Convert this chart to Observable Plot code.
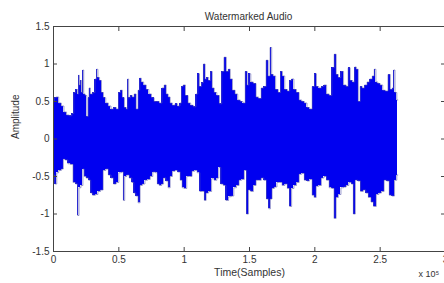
<!DOCTYPE html>
<html>
<head>
<meta charset="utf-8">
<script src="https://cdn.jsdelivr.net/npm/d3@7"></script>
<script src="https://cdn.jsdelivr.net/npm/@observablehq/plot@0.6"></script>
<style>
  html, body { margin: 0; padding: 0; background: #fff; }
  svg { display: block; }
</style>
</head>
<body>
<div id="chart"></div>
<script>
// Units: x in 1e5 samples, y amplitude
const titleText = "Watermarked Audio";
const xLabel = "Time(Samples)";
const yLabel = "Amplitude";
const xTicks = [0, 0.5, 1, 1.5, 2, 2.5, 3];
const yTicks = [-1.5, -1, -0.5, 0, 0.5, 1, 1.5];

const upperX = [0.00,0.01,0.03,0.05,0.07,0.09,0.11,0.13,0.15,0.16,0.18,0.19,0.195,0.20,0.21,0.22,0.228,0.235,0.25,0.26,0.27,0.275,0.29,0.31,0.325,0.335,0.345,0.36,0.375,0.39,0.41,0.43,0.45,0.47,0.49,0.505,0.52,0.535,0.55,0.565,0.57,0.58,0.595,0.61,0.625,0.64,0.655,0.665,0.68,0.70,0.72,0.74,0.76,0.78,0.80,0.82,0.84,0.855,0.87,0.885,0.90,0.92,0.94,0.96,0.975,0.985,1.00,1.02,1.04,1.06,1.08,1.10,1.11,1.125,1.14,1.155,1.165,1.18,1.195,1.21,1.22,1.24,1.26,1.28,1.295,1.315,1.33,1.345,1.36,1.38,1.40,1.42,1.44,1.46,1.475,1.49,1.50,1.52,1.54,1.56,1.58,1.60,1.62,1.635,1.65,1.665,1.675,1.69,1.71,1.73,1.745,1.76,1.78,1.80,1.815,1.83,1.85,1.87,1.89,1.91,1.93,1.95,1.97,1.99,2.005,2.02,2.04,2.06,2.08,2.10,2.12,2.14,2.157,2.17,2.19,2.21,2.23,2.25,2.26,2.28,2.30,2.31,2.325,2.34,2.355,2.37,2.39,2.41,2.43,2.45,2.46,2.475,2.49,2.51,2.53,2.55,2.57,2.585,2.60,2.607,2.62,2.635];
const upperY = [0.50,0.55,0.56,0.48,0.44,0.36,0.32,0.31,0.34,0.62,0.66,0.60,0.85,0.72,0.78,0.62,0.92,0.60,0.58,0.30,0.55,0.68,0.60,0.62,0.80,0.93,0.82,0.78,0.62,0.55,0.48,0.44,0.40,0.42,0.40,0.62,0.65,0.55,0.42,0.40,0.80,0.55,0.58,0.56,0.60,0.40,0.65,0.81,0.76,0.72,0.66,0.60,0.55,0.50,0.50,0.48,0.68,0.72,0.60,0.56,0.48,0.45,0.47,0.44,0.48,0.70,0.72,0.58,0.48,0.45,0.43,0.60,0.87,0.70,0.75,1.00,0.80,0.82,0.78,0.90,0.68,0.62,0.58,0.47,0.90,1.09,0.90,0.93,0.80,0.65,0.60,0.52,0.50,0.48,0.90,0.72,0.87,0.76,0.74,0.56,0.54,0.68,0.70,1.05,0.84,1.22,0.86,0.84,0.66,0.62,0.90,0.84,0.66,0.64,0.78,0.80,0.66,0.62,0.52,0.50,0.48,0.42,0.40,0.70,0.87,0.70,0.68,0.70,0.72,0.60,0.58,0.95,1.13,0.86,0.82,0.90,0.72,0.70,0.95,0.78,0.76,0.96,0.93,0.50,0.70,0.68,0.72,0.76,0.80,0.84,0.93,0.76,0.74,0.72,0.65,0.64,0.86,0.66,0.68,0.92,0.62,0.52];

const lowerX = [0.00,0.02,0.03,0.05,0.07,0.08,0.10,0.12,0.14,0.16,0.18,0.19,0.20,0.22,0.23,0.24,0.26,0.28,0.29,0.31,0.33,0.35,0.37,0.39,0.41,0.43,0.45,0.47,0.49,0.51,0.53,0.54,0.55,0.57,0.59,0.61,0.62,0.64,0.655,0.67,0.69,0.71,0.73,0.75,0.77,0.79,0.80,0.82,0.835,0.85,0.87,0.885,0.90,0.92,0.94,0.96,0.98,0.99,1.01,1.03,1.05,1.07,1.09,1.11,1.13,1.15,1.16,1.175,1.20,1.22,1.24,1.26,1.27,1.29,1.31,1.33,1.35,1.37,1.39,1.41,1.43,1.45,1.47,1.485,1.50,1.52,1.54,1.56,1.58,1.60,1.62,1.64,1.655,1.665,1.68,1.70,1.72,1.74,1.76,1.78,1.80,1.815,1.83,1.85,1.87,1.89,1.91,1.93,1.95,1.97,1.99,2.00,2.02,2.04,2.06,2.08,2.10,2.12,2.14,2.155,2.17,2.19,2.21,2.23,2.25,2.27,2.29,2.30,2.32,2.34,2.36,2.38,2.40,2.42,2.44,2.46,2.48,2.50,2.52,2.54,2.56,2.58,2.60,2.62,2.635];
const lowerY = [-0.48,-0.60,-0.45,-0.42,-0.40,-0.27,-0.28,-0.33,-0.34,-0.58,-0.60,-1.02,-0.65,-0.62,-0.40,-0.50,-0.52,-0.55,-0.72,-0.75,-0.74,-0.70,-0.68,-0.42,-0.40,-0.48,-0.52,-0.60,-0.58,-0.45,-0.44,-0.82,-0.50,-0.48,-0.52,-0.58,-0.72,-0.76,-0.85,-0.62,-0.60,-0.55,-0.54,-0.50,-0.44,-0.45,-0.60,-0.62,-0.60,-0.52,-0.56,-0.65,-0.50,-0.43,-0.42,-0.44,-0.55,-0.65,-0.66,-0.50,-0.50,-0.43,-0.42,-0.45,-0.70,-0.70,-0.82,-0.72,-0.70,-0.53,-0.55,-0.52,-0.38,-0.60,-0.62,-0.82,-0.77,-0.76,-0.65,-0.62,-0.55,-0.54,-0.42,-1.00,-0.68,-0.70,-0.62,-0.55,-0.55,-0.52,-0.55,-0.80,-0.93,-0.80,-0.66,-0.64,-0.58,-0.58,-0.62,-0.60,-0.66,-0.90,-0.66,-0.62,-0.58,-0.47,-0.46,-0.55,-0.56,-0.54,-0.75,-0.78,-0.63,-0.62,-0.52,-0.50,-0.55,-0.65,-0.66,-1.06,-0.78,-0.74,-0.65,-0.64,-0.62,-0.58,-0.60,-1.00,-0.55,-0.56,-0.70,-0.68,-0.72,-0.78,-0.84,-0.90,-0.74,-0.72,-0.70,-0.55,-0.56,-0.75,-0.76,-0.55,-0.48];

const upper = upperX.map((x, i) => ({x, y: upperY[i]}));
const lower = lowerX.map((x, i) => ({x, y: lowerY[i]}));

const font = "'Liberation Sans', Arial, sans-serif";
const waveBlue = "#0000f0";
const edge = "#5858b0";
const axisColor = "#444";

const chart = Plot.plot({
  width: 444,
  height: 283,
  marginLeft: 53,
  marginRight: -1,
  marginTop: 26,
  marginBottom: 32,
  style: {fontFamily: font, fontSize: "9.5px", color: "#333", background: "#fff"},
  x: {domain: [0, 3]},
  y: {domain: [-1.5, 1.5]},
  marks: [
    Plot.areaY(upper, {x: "x", y1: 0, y2: "y", curve: "step", fill: waveBlue, shapeRendering: "crispEdges"}),
    Plot.areaY(lower, {x: "x", y1: "y", y2: 0, curve: "step", fill: waveBlue, shapeRendering: "crispEdges"}),
    Plot.line(upper, {x: "x", y: "y", curve: "step", stroke: edge, strokeWidth: 0.6}),
    Plot.line(lower, {x: "x", y: "y", curve: "step", stroke: edge, strokeWidth: 0.6}),
    Plot.frame({stroke: axisColor, strokeWidth: 1}),
    Plot.axisX({ticks: xTicks, anchor: "bottom", tickSize: -4, tickPadding: 8, tickFormat: d => String(d), label: null, stroke: axisColor, fontSize: 10}),
    Plot.axisX({ticks: xTicks, anchor: "top", tickSize: -4, tickFormat: () => "", label: null, stroke: axisColor}),
    Plot.axisY({ticks: yTicks, anchor: "left", tickSize: -4, tickPadding: 8, tickFormat: d => String(d), label: null, stroke: axisColor, fontSize: 10}),
    Plot.axisY({ticks: yTicks, anchor: "right", tickSize: -5, tickFormat: () => "", label: null, stroke: axisColor}),
    Plot.text([titleText], {frameAnchor: "top", dx: -1, dy: -14, fontSize: 10, fill: "#333"}),
    Plot.text([xLabel], {frameAnchor: "bottom", dy: 24, fontSize: 10.5, fill: "#333"}),
    Plot.text([yLabel], {frameAnchor: "left", dx: -38, rotate: -90, fontSize: 10, fill: "#333"}),
    Plot.text(["x 10\u2075"], {frameAnchor: "bottom-right", textAnchor: "start", dx: -27, dy: 25, fontSize: 9, fill: "#333"})
  ]
});
document.getElementById("chart").appendChild(chart);
</script>
</body>
</html>
